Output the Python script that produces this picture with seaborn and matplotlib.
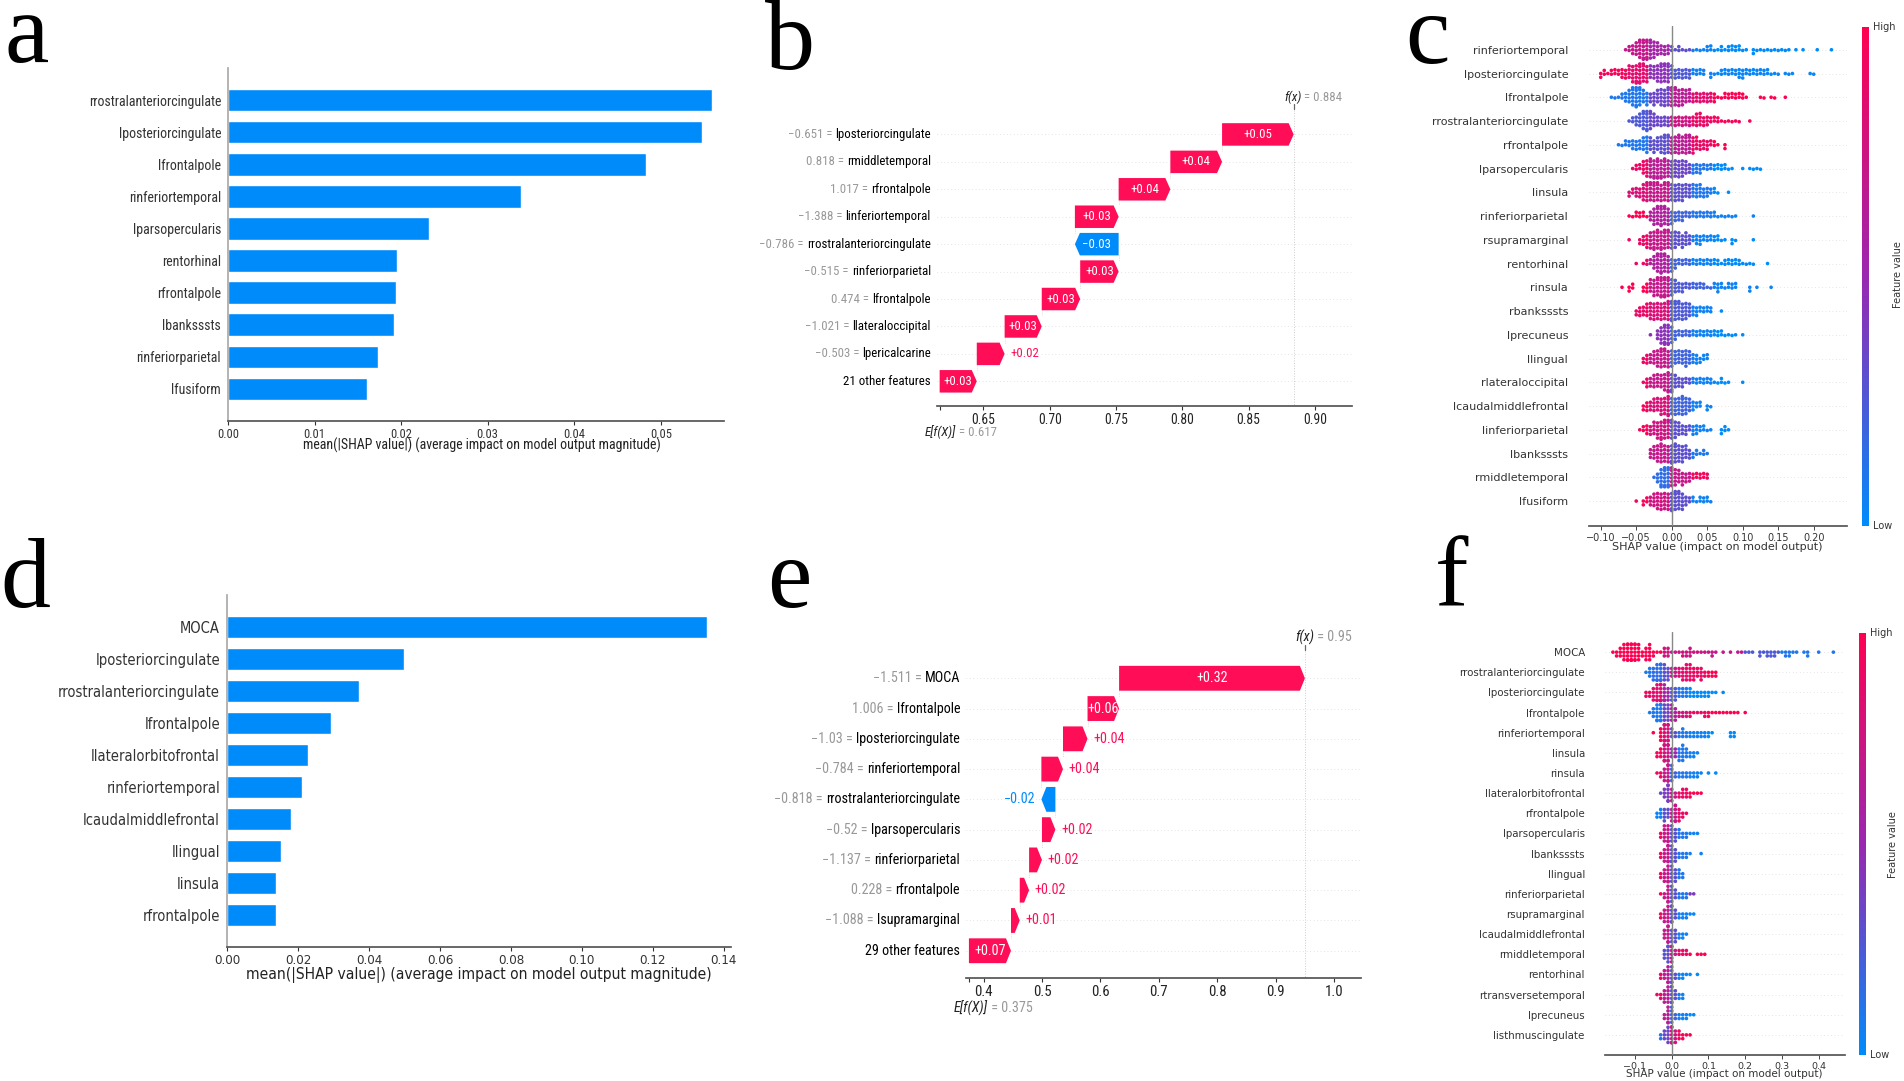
import numpy as np
import pandas as pd
import matplotlib
matplotlib.use("Agg")
import matplotlib.pyplot as plt
import seaborn as sns
from matplotlib.cm import ScalarMappable
from matplotlib.colors import LinearSegmentedColormap, Normalize

W, H = 1904, 1081
BLUE = "#008bfb"
RED = "#ff0d57"
NARROW = ["Roboto Condensed", "Liberation Sans"]

# panel a
a_features = ["rrostralanteriorcingulate", "lposteriorcingulate", "lfrontalpole", "rinferiortemporal",
              "lparsopercularis", "rentorhinal", "rfrontalpole", "lbanksssts", "rinferiorparietal", "lfusiform"]
a_values = [0.0559, 0.0548, 0.0483, 0.0338, 0.0232, 0.0195, 0.0194, 0.0192, 0.0173, 0.0161]

# panel d
d_features = ["MOCA", "lposteriorcingulate", "rrostralanteriorcingulate", "lfrontalpole", "llateralorbitofrontal",
              "rinferiortemporal", "lcaudalmiddlefrontal", "llingual", "linsula", "rfrontalpole"]
d_values = [0.1351, 0.0498, 0.0371, 0.0292, 0.0229, 0.0211, 0.0179, 0.0152, 0.0137, 0.0137]

# panel b
b_features = ["lposteriorcingulate", "rmiddletemporal", "rfrontalpole", "linferiortemporal",
              "rrostralanteriorcingulate", "rinferiorparietal", "lfrontalpole", "llateraloccipital",
              "lpericalcarine", "21 other features"]
b_inputs = ["\u22120.651", "0.818", "1.017", "\u22121.388", "\u22120.786", "\u22120.515", "0.474", "\u22121.021", "\u22120.503", ""]
b_shap = [0.054, 0.039, 0.039, 0.033, -0.033, 0.029, 0.029, 0.028, 0.021, 0.028]
b_labels = ["+0.05", "+0.04", "+0.04", "+0.03", "\u22120.03", "+0.03", "+0.03", "+0.03", "+0.02", "+0.03"]
b_base = 0.617
b_fx = 0.884

# panel e
e_features = ["MOCA", "lfrontalpole", "lposteriorcingulate", "rinferiortemporal", "rrostralanteriorcingulate",
              "lparsopercularis", "rinferiorparietal", "rfrontalpole", "lsupramarginal", "29 other features"]
e_inputs = ["\u22121.511", "1.006", "\u22121.03", "\u22120.784", "\u22120.818", "\u22120.52", "\u22121.137", "0.228", "\u22121.088", ""]
e_shap = [0.318, 0.054, 0.042, 0.037, -0.024, 0.023, 0.022, 0.016, 0.015, 0.072]
e_labels = ["+0.32", "+0.06", "+0.04", "+0.04", "\u22120.02", "+0.02", "+0.02", "+0.02", "+0.01", "+0.07"]
e_base = 0.375
e_fx = 0.95

# panel c: dots per 0.005 wide bin, first bin in c_starts
c_features = ["rinferiortemporal", "lposteriorcingulate", "lfrontalpole", "rrostralanteriorcingulate", "rfrontalpole",
              "lparsopercularis", "linsula", "rinferiorparietal", "rsupramarginal", "rentorhinal", "rinsula",
              "rbanksssts", "lprecuneus", "llingual", "rlateraloccipital", "lcaudalmiddlefrontal",
              "linferiorparietal", "lbanksssts", "rmiddletemporal", "lfusiform"]
c_starts = [-0.065, -0.10, -0.085, -0.06, -0.075, -0.055, -0.06, -0.06, -0.06, -0.05,
            -0.07, -0.05, -0.03, -0.04, -0.04, -0.04, -0.045, -0.03, -0.025, -0.05]
c_counts = [
    [1, 2, 3, 4, 6, 7, 7, 6, 5, 4, 3, 3, 3, 2, 1, 2, 1, 1, 1, 1, 1, 1, 1, 2, 2, 1, 1, 2, 1, 2, 2, 2, 2, 1, 1, 0, 2, 1, 1, 1, 1, 1, 1, 1, 1, 1, 1, 0, 1, 0, 1, 0, 0, 0, 1, 0, 0, 0, 1],
    [2, 2, 1, 2, 2, 2, 3, 3, 4, 5, 6, 7, 6, 5, 4, 4, 5, 6, 6, 6, 4, 3, 3, 3, 3, 3, 2, 2, 2, 2, 0, 2, 1, 1, 2, 2, 2, 2, 2, 3, 3, 2, 2, 2, 2, 2, 2, 2, 1, 1, 1, 0, 1, 1, 1, 0, 0, 0, 0, 1, 1],
    [1, 1, 1, 2, 3, 4, 6, 7, 6, 4, 4, 3, 4, 4, 5, 5, 6, 6, 6, 5, 5, 4, 4, 3, 3, 3, 3, 3, 3, 3, 1, 1, 2, 2, 2, 2, 2, 2, 1, 0, 0, 0, 1, 1, 0, 1, 1, 0, 0, 1],
    [1, 2, 3, 4, 6, 7, 6, 4, 3, 3, 3, 3, 3, 3, 3, 3, 3, 3, 3, 4, 4, 3, 3, 2, 2, 2, 1, 1, 1, 1, 1, 1, 0, 0, 1],
    [1, 1, 2, 2, 3, 3, 3, 4, 5, 4, 4, 4, 5, 6, 6, 5, 5, 6, 5, 6, 6, 5, 4, 3, 3, 3, 2, 2, 1, 0, 2],
    [1, 2, 2, 4, 5, 6, 6, 7, 6, 6, 5, 5, 5, 5, 5, 4, 3, 3, 3, 3, 2, 2, 2, 2, 2, 2, 2, 1, 1, 0, 0, 1, 0, 1, 1, 1, 1],
    [2, 2, 3, 3, 5, 6, 6, 6, 6, 5, 6, 6, 5, 5, 5, 5, 4, 4, 4, 4, 4, 3, 3, 2, 2, 1, 0, 0, 1],
    [1, 1, 2, 2, 2, 1, 3, 5, 6, 7, 6, 5, 4, 3, 3, 3, 2, 2, 2, 2, 2, 2, 2, 2, 2, 1, 1, 1, 1, 1, 1, 0, 0, 0, 0, 1],
    [1, 0, 0, 2, 3, 4, 5, 6, 6, 6, 6, 6, 5, 5, 4, 4, 4, 3, 2, 3, 3, 2, 2, 2, 2, 2, 1, 1, 0, 2, 1, 0, 0, 0, 0, 1],
    [1, 0, 1, 2, 2, 4, 6, 7, 6, 5, 4, 3, 2, 2, 2, 2, 2, 2, 2, 2, 2, 2, 2, 2, 1, 2, 2, 2, 2, 2, 1, 1, 1, 1, 0, 0, 0, 1],
    [1, 0, 2, 2, 0, 0, 2, 3, 4, 5, 6, 7, 7, 6, 5, 4, 3, 3, 2, 2, 2, 2, 2, 2, 1, 1, 2, 3, 2, 1, 2, 2, 2, 0, 0, 0, 2, 0, 1, 0, 0, 0, 1],
    [2, 3, 3, 4, 5, 5, 5, 5, 5, 6, 7, 6, 6, 5, 5, 4, 3, 3, 2, 2, 2, 2, 0, 0, 1],
    [1, 0, 3, 5, 7, 7, 5, 3, 2, 2, 2, 2, 2, 2, 2, 2, 2, 2, 2, 2, 2, 1, 1, 1, 1, 0, 1],
    [2, 3, 3, 4, 5, 6, 6, 5, 5, 4, 4, 4, 5, 4, 3, 3, 2, 2, 2],
    [1, 3, 3, 4, 4, 4, 5, 7, 6, 4, 3, 3, 2, 2, 2, 2, 2, 2, 2, 2, 1, 1, 2, 1, 1, 0, 0, 0, 1],
    [2, 3, 3, 4, 4, 5, 5, 7, 5, 5, 5, 6, 5, 4, 3, 2, 2, 0, 2, 1],
    [1, 2, 3, 3, 4, 5, 6, 6, 6, 6, 5, 4, 3, 3, 2, 3, 3, 2, 2, 1, 1, 0, 0, 2, 2, 1],
    [3, 4, 5, 6, 5, 5, 6, 6, 5, 5, 4, 3, 2, 2, 1, 2, 1],
    [1, 3, 6, 7, 7, 6, 5, 4, 4, 3, 3, 2, 2, 2, 2, 2],
    [1, 0, 2, 2, 3, 4, 5, 5, 5, 5, 6, 6, 6, 5, 3, 2, 2, 1, 2, 2, 2, 1],
]
# feature value (0 blue, 1 red) between c_edges
c_edges = [-0.06, -0.03, 0.0, 0.03, 0.06]
c_values = [
    [0.7, 0.7, 0.55, 0.3, 0.05, 0.0],
    [0.95, 0.85, 0.45, 0.25, 0.05, 0.03],
    [0.1, 0.1, 0.35, 0.65, 0.85, 1.0],
    [0.25, 0.25, 0.35, 0.75, 0.9, 0.95],
    [0.1, 0.1, 0.3, 0.65, 0.9, 1.0],
    [0.9, 0.9, 0.65, 0.35, 0.1, 0.0],
    [0.85, 0.8, 0.7, 0.3, 0.1, 0.0],
    [1.0, 1.0, 0.6, 0.2, 0.1, 0.05],
    [1.0, 0.9, 0.7, 0.3, 0.05, 0.0],
    [1.0, 0.9, 0.6, 0.2, 0.05, 0.0],
    [1.0, 1.0, 0.7, 0.25, 0.2, 0.05],
    [0.9, 0.9, 0.8, 0.25, 0.05, 0.0],
    [1.0, 1.0, 0.45, 0.2, 0.05, 0.0],
    [0.9, 0.9, 0.7, 0.2, 0.05, 0.0],
    [0.9, 0.9, 0.7, 0.3, 0.05, 0.0],
    [0.95, 0.95, 0.8, 0.2, 0.05, 0.0],
    [0.95, 0.95, 0.75, 0.3, 0.05, 0.0],
    [0.9, 0.9, 0.7, 0.3, 0.1, 0.0],
    [0.05, 0.05, 0.15, 0.7, 0.95, 1.0],
    [0.95, 0.95, 0.75, 0.3, 0.05, 0.0],
]

# panel f: dots per 0.01 wide bin
f_features = ["MOCA", "rrostralanteriorcingulate", "lposteriorcingulate", "lfrontalpole", "rinferiortemporal",
              "linsula", "rinsula", "llateralorbitofrontal", "rfrontalpole", "lparsopercularis", "lbanksssts",
              "llingual", "rinferiorparietal", "rsupramarginal", "lcaudalmiddlefrontal", "rmiddletemporal",
              "rentorhinal", "rtransversetemporal", "lprecuneus", "listhmuscingulate"]
f_starts = [-0.16, -0.07, -0.07, -0.06, -0.05, -0.04, -0.04, -0.03, -0.04, -0.03,
            -0.03, -0.03, -0.03, -0.03, -0.02, -0.02, -0.03, -0.04, -0.02, -0.03]
f_counts = [
    [1, 2, 3, 5, 7, 8, 7, 5, 2, 4, 5, 2, 1, 1, 3, 3, 1, 1, 1, 2, 2, 3, 1, 1, 1, 1, 1, 2, 1, 0, 1, 0, 1, 0, 1, 1, 1, 1, 1, 0, 2, 1, 2, 2, 2, 1, 1, 2, 2, 1, 1, 0, 1, 2, 0, 0, 1, 0, 0, 0, 1],
    [1, 3, 4, 6, 7, 5, 4, 3, 3, 3, 4, 5, 5, 4, 3, 4, 2, 2, 2, 2],
    [2, 2, 4, 6, 8, 6, 4, 4, 4, 3, 3, 3, 3, 2, 2, 2, 2, 2, 1, 1, 0, 1],
    [1, 3, 6, 7, 5, 5, 5, 4, 2, 2, 2, 2, 1, 1, 1, 2, 2, 1, 1, 1, 1, 1, 1, 1, 1, 0, 1],
    [1, 0, 4, 8, 7, 3, 2, 2, 3, 2, 2, 2, 2, 2, 2, 2, 1, 0, 0, 0, 0, 2, 2],
    [2, 3, 7, 7, 3, 3, 4, 5, 3, 2, 2, 1],
    [1, 2, 4, 7, 5, 2, 2, 2, 2, 2, 2, 2, 1, 0, 1, 0, 1],
    [1, 3, 7, 4, 2, 2, 3, 3, 2, 1, 1, 1],
    [2, 3, 4, 3, 4, 7, 4, 2, 1],
    [2, 5, 6, 5, 4, 3, 2, 2, 1, 1, 1],
    [2, 4, 7, 6, 4, 2, 2, 2, 1, 0, 0, 1],
    [2, 4, 6, 5, 4, 3, 2],
    [1, 2, 6, 5, 3, 2, 2, 2, 1, 1],
    [2, 4, 5, 7, 3, 2, 2, 2, 1, 1],
    [3, 7, 4, 4, 2, 2, 1],
    [3, 6, 6, 2, 2, 2, 2, 1, 0, 1, 1, 1],
    [2, 3, 6, 6, 2, 2, 2, 1, 1, 0, 1],
    [1, 2, 4, 5, 7, 3, 2, 2],
    [2, 6, 5, 2, 2, 2, 2, 1, 1],
    [2, 3, 5, 7, 4, 3, 2, 1, 1],
]
f_edges = [-0.05, -0.02, 0.0, 0.02, 0.05, 0.1, 0.2, 0.3]
f_values = [
    [1.0, 1.0, 0.75, 0.7, 0.75, 0.75, 0.7, 0.25, 0.1],
    [0.1, 0.15, 0.3, 0.7, 0.85, 0.9, 1.0, 1.0, 1.0],
    [0.9, 0.85, 0.55, 0.25, 0.1, 0.0, 0.0, 0.0, 0.0],
    [0.1, 0.1, 0.35, 0.6, 0.75, 0.9, 1.0, 1.0, 1.0],
    [1.0, 1.0, 0.8, 0.3, 0.1, 0.05, 0.0, 0.0, 0.0],
    [1.0, 0.95, 0.75, 0.5, 0.1, 0.05, 0.0, 0.0, 0.0],
    [1.0, 0.9, 0.7, 0.2, 0.1, 0.05, 0.0, 0.0, 0.0],
    [0.3, 0.3, 0.4, 0.7, 0.9, 1.0, 1.0, 1.0, 1.0],
    [0.1, 0.05, 0.3, 0.7, 0.9, 1.0, 1.0, 1.0, 1.0],
    [1.0, 0.9, 0.7, 0.3, 0.1, 0.05, 0.0, 0.0, 0.0],
    [1.0, 0.9, 0.7, 0.3, 0.1, 0.05, 0.0, 0.0, 0.0],
    [1.0, 0.9, 0.7, 0.3, 0.1, 0.05, 0.0, 0.0, 0.0],
    [1.0, 0.95, 0.7, 0.3, 0.1, 0.4, 0.0, 0.0, 0.0],
    [1.0, 0.9, 0.7, 0.3, 0.05, 0.02, 0.0, 0.0, 0.0],
    [0.9, 0.9, 0.7, 0.3, 0.05, 0.0, 0.0, 0.0, 0.0],
    [0.1, 0.1, 0.3, 0.7, 0.9, 1.0, 1.0, 1.0, 1.0],
    [0.9, 0.9, 0.65, 0.3, 0.05, 0.0, 0.0, 0.0, 0.0],
    [0.95, 0.9, 0.65, 0.3, 0.05, 0.0, 0.0, 0.0, 0.0],
    [0.9, 0.9, 0.65, 0.2, 0.05, 0.0, 0.0, 0.0, 0.0],
    [0.1, 0.1, 0.35, 0.75, 0.95, 1.0, 1.0, 1.0, 1.0],
]

sns.set_theme(style="ticks")
plt.rcParams["font.family"] = ["DejaVu Sans"]
red_blue = LinearSegmentedColormap.from_list("red_blue", [BLUE, "#9a27b0", "#ff0051"])
fig = plt.figure(figsize=(W / 100, H / 100), dpi=100, facecolor="white")


def add_axes_px(left, right, top, bottom):
    return fig.add_axes([left / W, 1 - bottom / H, (right - left) / W, (bottom - top) / H])


def label_at(text, x_px, y_px, **kw):
    fig.text(x_px / W, 1 - y_px / H, text, ha=kw.pop("ha", "center"), va=kw.pop("va", "center"), **kw)


def bar_panel(box, features, values, xlim, ticks, ticklabels, font, size, xlabel, xlabel_pos, xlabel_size):
    ax = add_axes_px(*box)
    sns.barplot(x=values, y=features, color=BLUE, saturation=1, width=0.7, orient="h", ax=ax)
    ax.set_xlim(*xlim)
    ax.set_ylim(10, -1)
    ax.set_xticks(ticks, ticklabels, fontsize=size - 1, color="#333333", **font)
    ax.tick_params(axis="x", length=3, width=0.8, color="#333333", pad=2)
    ax.tick_params(axis="y", length=0, pad=5)
    for t in ax.get_yticklabels():
        t.set(fontsize=size, color="#333333", **font)
    ax.set_xlabel("")
    ax.set_ylabel("")
    sns.despine(ax=ax)
    ax.spines["left"].set_color("#aaaaaa")
    ax.spines["bottom"].set_color("#555555")
    label_at(xlabel, *xlabel_pos, fontsize=xlabel_size, color="#222222", **font)


def waterfall_panel(box, features, inputs, shap, labels, base, fx, xlim, ticks, ticklabels, base_text, fx_text, size,
                    base_drop):
    ax = add_axes_px(*box)
    ax.set_xlim(*xlim)
    ax.set_ylim(9.9, -1)
    x_scale = (box[1] - box[0]) / (xlim[1] - xlim[0])
    head = 5 / x_scale
    ends = base + np.cumsum(np.array(shap)[::-1])
    ends = ends[::-1]
    starts = ends - np.array(shap)
    trans = ax.get_yaxis_transform()
    for i, name in enumerate(features):
        ax.axhline(i, color="#cccccc", lw=0.5, dashes=(1, 4), zorder=0)
        d = shap[i]
        colour = RED if d > 0 else BLUE
        sign = 1 if d > 0 else -1
        h = min(head, abs(d))
        half = 0.41
        ax.fill([starts[i], ends[i] - sign * h, ends[i], ends[i] - sign * h, starts[i]],
                [i - half, i - half, i, i + half, i + half], color=colour, lw=0, zorder=3)
        if i < len(features) - 1:
            ax.plot([starts[i], starts[i]], [i + half, i + 1 - half], color="#cccccc", lw=0.6, ls=":", zorder=1)
        if abs(d) * x_scale > 30:
            ax.text((starts[i] + ends[i]) / 2, i, labels[i], color="white", ha="center", va="center",
                    family=NARROW, fontsize=size, zorder=4)
        elif d > 0:
            ax.annotate(labels[i], (ends[i], i), xytext=(4, 0), textcoords="offset points", color=RED,
                        ha="left", va="center", family=NARROW, fontsize=size)
        else:
            ax.annotate(labels[i], (ends[i], i), xytext=(-4, 0), textcoords="offset points", color=BLUE,
                        ha="right", va="center", family=NARROW, fontsize=size)
        name_text = ax.text(-0.015, i, name, transform=trans, ha="right", va="center", family=NARROW,
                            fontsize=size, color="black")
        if inputs[i]:
            ax.annotate(inputs[i] + " = ", xy=(0, 0.5), xycoords=name_text, ha="right", va="center",
                        family=NARROW, fontsize=size, color="#999999")
    ax.plot([fx, fx], [-0.9, 9.9], color="#cccccc", lw=0.7, ls=":", zorder=1)
    ax.plot([fx, fx], [-1.1, -0.92], color="#666666", lw=0.9, clip_on=False)
    ax.set_xticks([base] + ticks, [""] + ticklabels, family=NARROW, fontsize=size + 0.5, color="#222222")
    ax.tick_params(axis="x", length=3, width=0.8, color="#333333", pad=2)
    ax.set_yticks([])
    sns.despine(ax=ax, left=True)
    ax.spines["bottom"].set_color("#555555")
    x_fx = ax.annotate(fx_text[0], xy=(fx, -1.35), ha="left", va="center", style="italic", family=NARROW,
                       fontsize=size, color="#222222", xytext=(-7, 0), textcoords="offset points",
                       annotation_clip=False)
    ax.annotate(fx_text[1], xy=(1, 0.5), xycoords=x_fx, ha="left", va="center", family=NARROW, fontsize=size,
                color="#999999")
    x_e = ax.annotate(base_text[0], xy=(base, 9.9), xytext=(-11, -base_drop), textcoords="offset points", ha="left",
                      va="center", style="italic", family=NARROW, fontsize=size, color="#222222",
                      annotation_clip=False)
    ax.annotate(base_text[1], xy=(1, 0.5), xycoords=x_e, ha="left", va="center", family=NARROW, fontsize=size,
                color="#999999")


def swarm_table(features, starts, counts, step, values, edges):
    frames = []
    for name, start, n, vals in zip(features, starts, counts, values):
        x = np.round(start + step * np.arange(len(n)), 4)
        shap = np.repeat(x, n)
        frames.append(pd.DataFrame({"feature": name, "shap": shap,
                                    "value": np.array(vals)[np.digitize(shap, edges)]}))
    return pd.concat(frames, ignore_index=True)


def swarm_panel(box, table, features, xlim, bottom_row, ticks, ticklabels, size, tick_size, pad, xlabel, xlabel_pos,
                xlabel_size, cbar_box, feature_pos):
    ax = add_axes_px(*box)
    sns.swarmplot(data=table, x="shap", y="feature", order=features, hue="value", palette=red_blue,
                  hue_norm=(0, 1), size=2.6, linewidth=0, orient="h", legend=False, warn_thresh=1, ax=ax)
    for i in range(len(features)):
        ax.axhline(i, color="#cccccc", lw=0.5, dashes=(1, 4), zorder=0)
    ax.axvline(0, color="#888888", lw=1, zorder=5)
    ax.set_xlim(*xlim)
    ax.set_ylim(bottom_row, -1)
    ax.set_xticks(ticks, ticklabels, fontsize=tick_size, color="#333333")
    ax.tick_params(axis="x", length=3, width=0.7, color="#444444", pad=2)
    ax.tick_params(axis="y", length=0, pad=pad, labelsize=size, labelcolor="#333333")
    ax.set_xlabel("")
    ax.set_ylabel("")
    sns.despine(ax=ax, left=True)
    ax.spines["bottom"].set_color("#555555")
    label_at(xlabel, *xlabel_pos, fontsize=xlabel_size, color="#333333")
    cax = add_axes_px(*cbar_box)
    bar = fig.colorbar(ScalarMappable(Normalize(0, 1), red_blue), cax=cax)
    bar.outline.set_visible(False)
    bar.set_ticks([])
    label_at("High", cbar_box[1] + 4, cbar_box[2], ha="left", fontsize=7, color="#333333")
    label_at("Low", cbar_box[1] + 4, cbar_box[3], ha="left", fontsize=7, color="#333333")
    label_at("Feature value", *feature_pos, rotation=90, fontsize=7, color="#333333")


bar_panel((228, 724, 68, 421), a_features, a_values, (0, 0.0573), [0, 0.01, 0.02, 0.03, 0.04, 0.05],
          ["0.00", "0.01", "0.02", "0.03", "0.04", "0.05"], {"family": NARROW}, 10,
          "mean(|SHAP value|) (average impact on model output magnitude)", (482, 445), 10.0)
bar_panel((227, 731, 595, 947), d_features, d_values, (0, 0.142), [0, 0.02, 0.04, 0.06, 0.08, 0.10, 0.12, 0.14],
          ["0.00", "0.02", "0.04", "0.06", "0.08", "0.10", "0.12", "0.14"],
          {"family": ["DejaVu Sans"], "stretch": "condensed"}, 10.5,
          "mean(|SHAP value|) (average impact on model output magnitude)", (479, 975), 11.2)

waterfall_panel((937, 1352, 107, 406), b_features, b_inputs, b_shap, b_labels, b_base, b_fx, (0.615, 0.928),
                [0.65, 0.70, 0.75, 0.80, 0.85, 0.90], ["0.65", "0.70", "0.75", "0.80", "0.85", "0.90"],
                ("E[f(X)]", " = 0.617"), ("f(x)", " = 0.884"), 9.3, 19)
waterfall_panel((966, 1361, 648, 978), e_features, e_inputs, e_shap, e_labels, e_base, e_fx, (0.370, 1.046),
                [0.4, 0.5, 0.6, 0.7, 0.8, 0.9, 1.0], ["0.4", "0.5", "0.6", "0.7", "0.8", "0.9", "1.0"],
                ("E[f(X)]", " = 0.375"), ("f(x)", " = 0.95"), 10.2, 21.5)

c_table = swarm_table(c_features, c_starts, c_counts, 0.005, c_values, c_edges)
swarm_panel((1589, 1847, 26, 526), c_table, c_features, (-0.1165, 0.2469), 20.05,
            [-0.10, -0.05, 0, 0.05, 0.10, 0.15, 0.20], ["\u22120.10", "\u22120.05", "0.00", "0.05", "0.10", "0.15", "0.20"],
            8.0, 7.0, 15, "SHAP value (impact on model output)", (1717, 547), 8.0, (1862, 1869, 27, 526), (1898, 275))

f_table = swarm_table(f_features, f_starts, f_counts, 0.01, f_values, f_edges)
swarm_panel((1605, 1845, 632, 1055), f_table, f_features, (-0.1815, 0.4716), 20,
            [-0.1, 0, 0.1, 0.2, 0.3, 0.4], ["\u22120.1", "0.0", "0.1", "0.2", "0.3", "0.4"],
            7.4, 6.8, 14.5, "SHAP value (impact on model output)", (1724, 1074), 7.5, (1859, 1866, 633, 1055), (1893, 845))

panel_letters = ["a", "b", "c", "d", "e", "f"]
letter_x = [4, 765, 1405, 0, 767, 1435]
letter_y = [62, 69, 63, 607, 607, 606]
for s, x, y in zip(panel_letters, letter_x, letter_y):
    fig.text(x / W, 1 - y / H, s, family="Liberation Serif", fontsize=72, color="black", ha="left", va="baseline")

fig.savefig("out.png", dpi=100)
